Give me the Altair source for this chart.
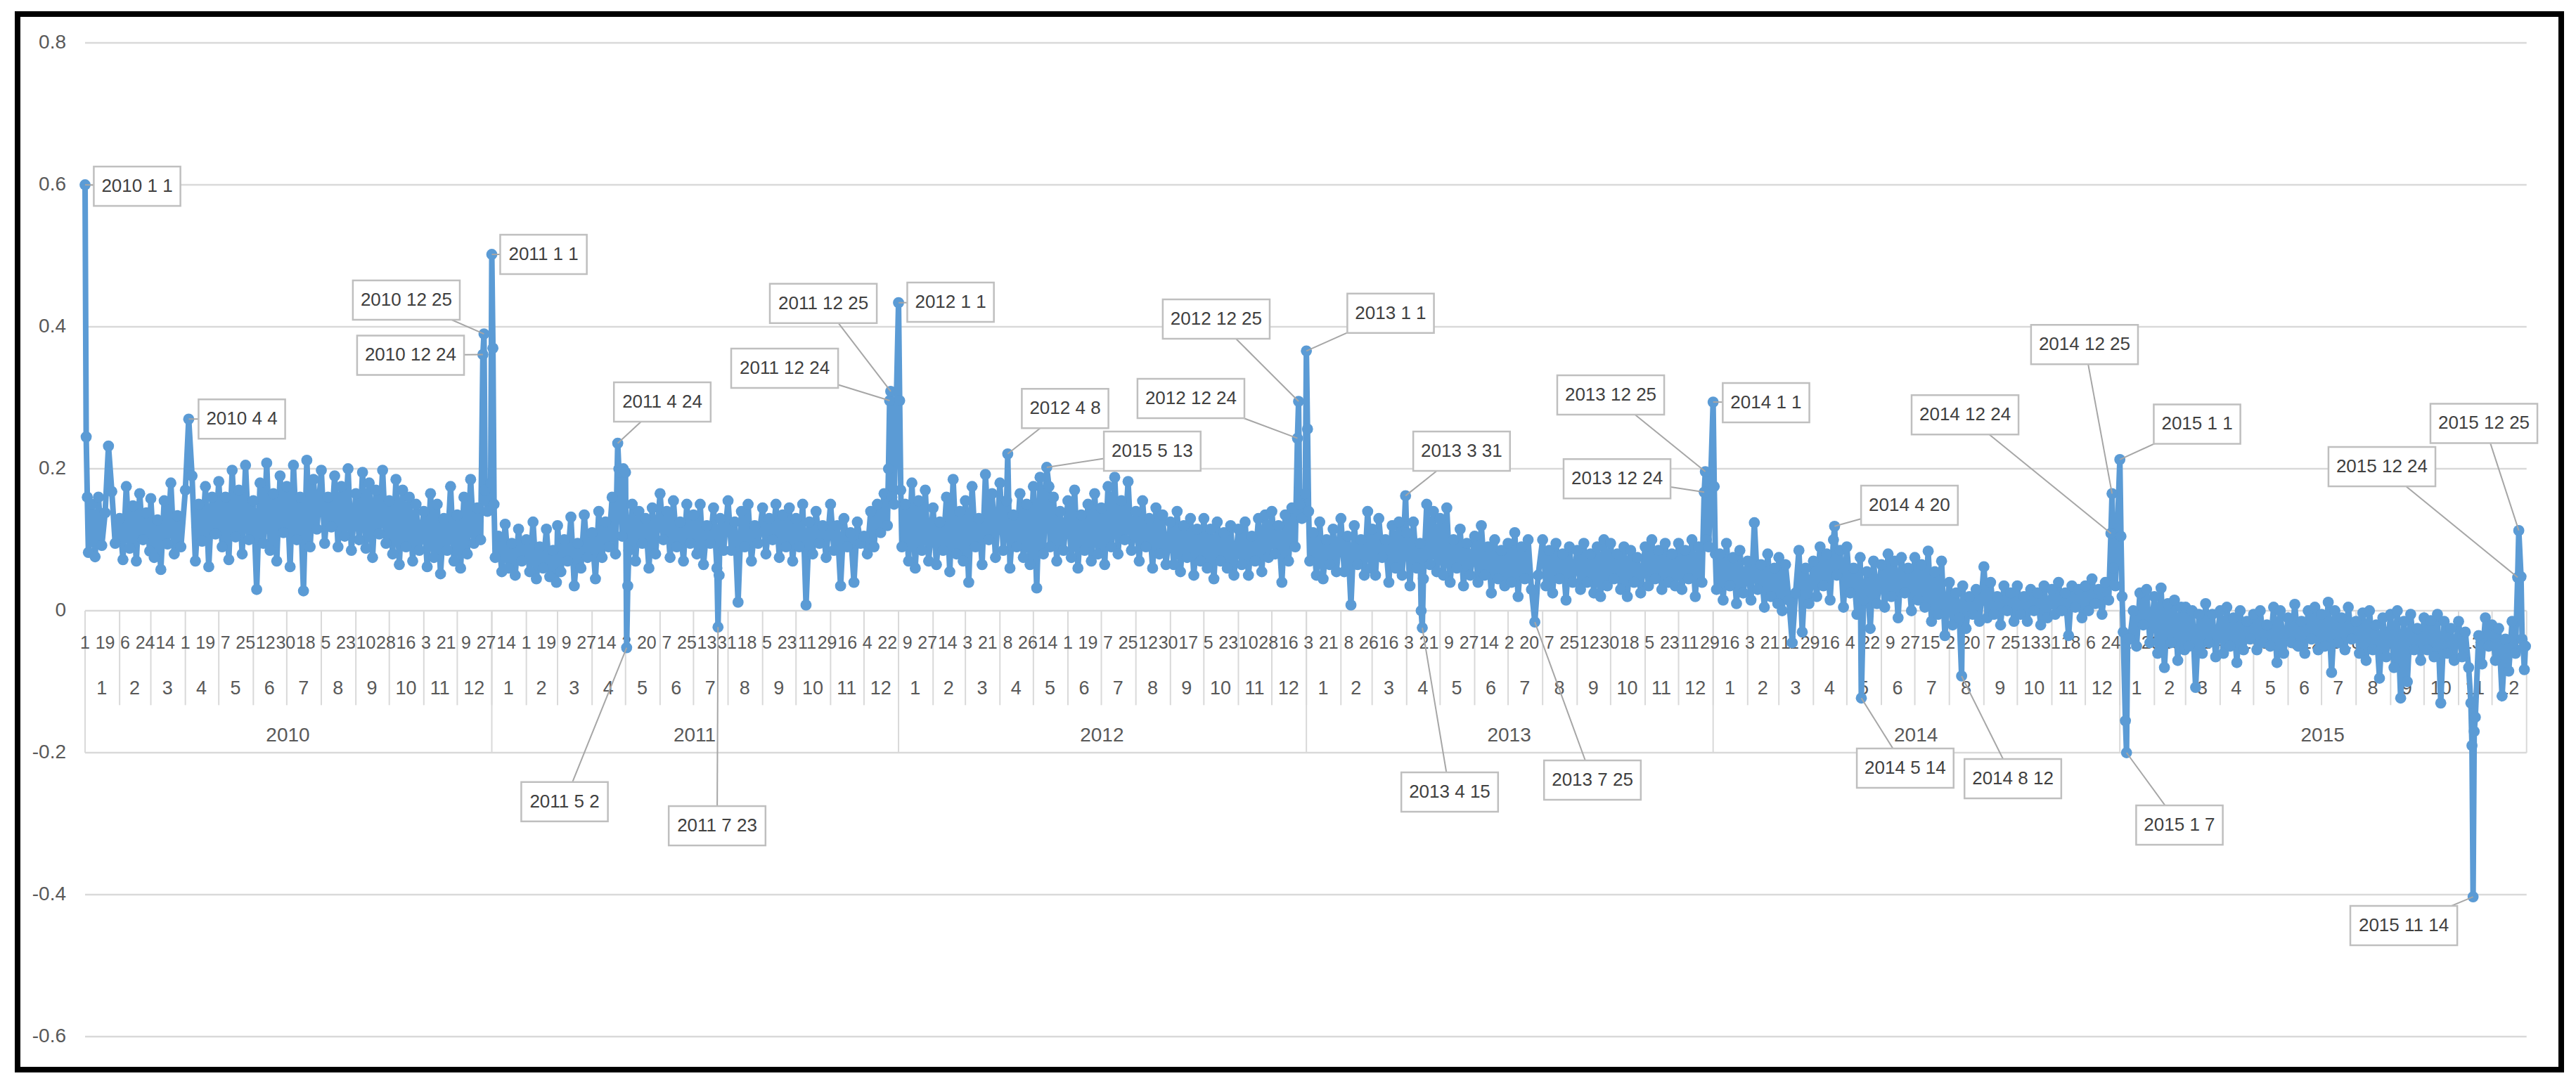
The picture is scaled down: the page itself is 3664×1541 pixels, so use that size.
import altair as alt
import pandas as pd
import numpy as np

# ---------------- data ----------------
# ten readings per month (days 1,4,7,...,28), thousandths
v2010 = [105, 82, 150, 76, 160, 92, 138, 78, 168, 95,
         130, 72, 175, 88, 148, 70, 165, 100, 138, 84,
         158, 75, 128, 58, 155, 94, 180, 80, 134, 90,
         170, 85, 190, 70, 150, 98, 175, 62, 160, 108,
         182, 90, 160, 72, 198, 104, 170, 80, 205, 100,
         155, 30, 180, 95, 208, 85, 165, 70, 190, 110,
         175, 62, 205, 100, 160, 28, 212, 90, 185, 115,
         198, 95, 160, 118, 190, 90, 175, 105, 200, 85,
         165, 100, 195, 88, 180, 75, 170, 108, 198, 95,
         155, 80, 185, 65, 170, 90, 160, 70, 150, 85,
         140, 62, 165, 75, 150, 52, 130, 85, 175, 70,
         135, 60, 160, 80, 185, 95, 145, 100, 178, 140]
v2011 = [130, 75, 105, 55, 122, 60, 95, 50, 115, 70,
         100, 55, 125, 45, 90, 60, 115, 48, 85, 40,
         120, 55, 100, 70, 132, 35, 95, 60, 135, 75,
         110, 45, 140, 75, 125, 90, 160, 80, 200, 105,
         195, 85, 150, 70, 140, 95, 130, 60, 145, 80,
         165, 100, 140, 75, 155, 90, 125, 70, 150, 95,
         135, 80, 150, 65, 120, 95, 145, 60, 130, 85,
         155, 85, 125, 12, 140, 90, 150, 70, 120, 95,
         145, 80, 130, 100, 150, 75, 135, 90, 145, 70,
         130, 90, 150, 8, 125, 80, 140, 95, 120, 75,
         150, 85, 120, 35, 130, 90, 110, 40, 125, 95,
         105, 80, 140, 90, 150, 110, 165, 120, 200, 150]
v2012 = [165, 90, 150, 70, 180, 60, 155, 85, 170, 70,
         145, 65, 125, 85, 160, 55, 185, 80, 140, 70,
         155, 40, 175, 90, 130, 65, 192, 100, 165, 75,
         180, 85, 155, 60, 135, 90, 165, 75, 150, 65,
         175, 32, 188, 80, 145, 90, 160, 70, 140, 85,
         155, 75, 170, 60, 135, 85, 150, 70, 165, 80,
         145, 65, 175, 90, 188, 80, 155, 100, 182, 85,
         140, 70, 155, 90, 130, 60, 145, 80, 135, 65,
         125, 65, 140, 55, 120, 75, 130, 50, 115, 70,
         130, 60, 115, 45, 125, 70, 110, 60, 120, 50,
         115, 65, 125, 50, 105, 70, 130, 55, 135, 75,
         140, 80, 120, 40, 135, 70, 145, 90, 160, 130]
v2013 = [120, 70, 110, 50, 125, 45, 100, 65, 115, 55,
         130, 55, 105, 8, 120, 65, 100, 50, 140, 60,
         115, 50, 130, 75, 100, 40, 120, 60, 125, 50,
         110, 35, 125, 60, 95, 45, 150, 65, 140, 55,
         130, 50, 145, 40, 100, 60, 115, 35, 95, 50,
         105, 40, 120, 50, 90, 25, 100, 45, 85, 35,
         95, 40, 110, 20, 90, 45, 100, 30, 115, 50,
         100, 35, 85, 25, 95, 45, 80, 15, 90, 40,
         85, 30, 95, 40, 80, 25, 90, 20, 100, 35,
         95, 45, 80, 30, 90, 20, 85, 40, 75, 25,
         90, 35, 100, 45, 85, 30, 95, 40, 80, 35,
         95, 30, 85, 45, 100, 20, 90, 40, 125, 90]
v2014 = [110, 30, 80, 15, 95, 35, 75, 10, 85, 25,
         70, 15, 124, 30, 65, 5, 80, 20, 60, 10,
         75, 0, 65, 15, -45, 25, 85, -30, 60, 10,
         70, 20, 90, 35, 80, 15, 100, 50, 85, 5,
         90, 25, 60, -5, 75, 15, 55, -25, 70, 10,
         65, 5, 80, 20, 70, -10, 75, 25, 60, 0,
         75, 15, 65, 5, 84, -15, 55, -5, 70, -35,
         40, -20, 25, -10, 35, -25, 20, -5, 30, -15,
         62, -10, 40, -5, 20, -20, 35, 0, 25, -15,
         35, -5, 20, -15, 30, 0, 25, -20, 35, -10,
         30, -5, 40, 0, 25, -35, 35, 5, 30, -10,
         35, 0, 45, 10, 30, -5, 40, 15, 50, 35]
v2015 = [10, -30, 20, -40, 0, -50, 25, -20, 30, -45,
         20, -60, 32, -80, 10, -45, 15, -70, 5, -55,
         5, -50, 0, -108, -5, -60, 10, -45, -5, -65,
         0, -60, 5, -50, -10, -73, 0, -55, -15, -40,
         -5, -55, 0, -45, -20, -50, 5, -73, 0, -60,
         -10, -45, 9, -50, -15, -60, 0, -40, 5, -55,
         -5, -50, 12, -87, 0, -45, -10, -55, 5, -40,
         -15, -60, -3, -70, 0, -55, -20, -95, -10, -65,
         -5, -80, 0, -123, -15, -100, -5, -55, -25, -70,
         -10, -55, -14, -65, -5, -130, -15, -60, -25, -70,
         -15, -65, -30, -80, -20, -60, -35, -75, -10, -50,
         -20, -70, -25, -120, -40, -85, -15, -60, 30, -40]

special_dates = ["2010-01-01", "2010-01-02", "2010-01-03", "2010-01-22", "2010-04-04",
                 "2010-12-24", "2010-12-25", "2010-12-26", "2010-12-31", "2011-01-01",
                 "2011-01-02", "2011-01-03", "2011-04-24", "2011-04-26", "2011-04-29",
                 "2011-05-02", "2011-05-03", "2011-07-23", "2011-07-24", "2011-12-23",
                 "2011-12-24", "2011-12-25", "2011-12-26", "2012-01-01", "2012-01-02",
                 "2012-01-03", "2012-04-08", "2012-05-13", "2012-05-15", "2012-12-24",
                 "2012-12-25", "2012-12-26", "2012-12-31", "2013-01-01", "2013-01-02",
                 "2013-01-03", "2013-03-31", "2013-04-14", "2013-04-15", "2013-07-25",
                 "2013-12-24", "2013-12-25", "2013-12-26", "2014-01-01", "2014-01-02",
                 "2014-01-03", "2014-04-20", "2014-05-14", "2014-08-12", "2014-12-24",
                 "2014-12-25", "2014-12-26", "2015-01-01", "2015-01-02", "2015-01-03",
                 "2015-01-06", "2015-01-07", "2015-01-08", "2015-11-12", "2015-11-13",
                 "2015-11-14", "2015-11-15", "2015-11-16", "2015-12-24", "2015-12-25",
                 "2015-12-27", "2015-12-29", "2015-12-30", "2015-12-31"]
special_values = [0.600, 0.245, 0.160, 0.232, 0.270,
                  0.361, 0.390, 0.170, 0.180, 0.502,
                  0.370, 0.150, 0.236, 0.195, 0.200,
                  -0.052, 0.035, -0.023, 0.050, 0.200,
                  0.296, 0.309, 0.160, 0.434, 0.296,
                  0.170, 0.221, 0.202, 0.175, 0.243,
                  0.295, 0.150, 0.165, 0.366, 0.256,
                  0.140, 0.162, 0.000, -0.024, -0.016,
                  0.167, 0.196, 0.100, 0.294, 0.175,
                  0.080, 0.119, -0.123, -0.092, 0.109,
                  0.165, 0.060, 0.213, 0.105, 0.020,
                  -0.155, -0.200, -0.040, -0.130, -0.190,
                  -0.403, -0.170, -0.150, 0.047, 0.113,
                  0.048, -0.052, -0.083, -0.050]

callout_dates = ["2010-01-01", "2010-12-25", "2010-12-24", "2011-01-01", "2010-04-04",
                 "2011-04-24", "2011-05-02", "2011-07-23", "2011-12-25", "2011-12-24",
                 "2012-01-01", "2012-04-08", "2012-05-13", "2012-12-25", "2012-12-24",
                 "2013-01-01", "2013-03-31", "2013-04-15", "2013-07-25", "2013-12-25",
                 "2013-12-24", "2014-01-01", "2014-04-20", "2014-05-14", "2014-08-12",
                 "2014-12-25", "2014-12-24", "2015-01-01", "2015-01-07", "2015-11-14",
                 "2015-12-25", "2015-12-24"]
callout_texts = ["2010 1 1", "2010 12 25", "2010 12 24", "2011 1 1", "2010 4 4",
                 "2011 4 24", "2011 5 2", "2011 7 23", "2011 12 25", "2011 12 24",
                 "2012 1 1", "2012 4 8", "2015 5 13", "2012 12 25", "2012 12 24",
                 "2013 1 1", "2013 3 31", "2013 4 15", "2013 7 25", "2013 12 25",
                 "2013 12 24", "2014 1 1", "2014 4 20", "2014 5 14", "2014 8 12",
                 "2014 12 25", "2014 12 24", "2015 1 1", "2015 1 7", "2015 11 14",
                 "2015 12 25", "2015 12 24"]
# callout box centres (day index, value)
callout_box_x = [46.7, 288.3, 292.1, 411.4, 140.7,
                 518.0, 430.3, 567.2, 662.5, 627.8,
                 776.7, 879.5, 957.7, 1015.1, 992.4,
                 1171.6, 1235.3, 1224.6, 1352.7, 1369.1,
                 1374.8, 1508.5, 1637.2, 1633.4, 1730.0,
                 1794.3, 1687.1, 1895.3, 1879.5, 2080.8,
                 2152.7, 2061.2]
callout_box_y = [0.598, 0.4376, 0.360, 0.502, 0.270,
                 0.294, -0.269, -0.303, 0.433, 0.3416,
                 0.4347, 0.285, 0.2248, 0.411, 0.299,
                 0.419, 0.2248, -0.2554, -0.2386, 0.304,
                 0.186, 0.293, 0.1485, -0.2218, -0.2366,
                 0.375, 0.276, 0.263, -0.302, -0.4436,
                 0.264, 0.203]

y_ticks = [-0.6, -0.4, -0.2, 0.0, 0.2, 0.4, 0.6, 0.8]
y_tick_labels = ["-0.6", "-0.4", "-0.2", "0", "0.2", "0.4", "0.6", "0.8"]

# ---------------- layout / style ----------------
W, H = 3618, 1502
XDOM = [-60.57, 2222.1]
YDOM = [-0.6465, 0.8406]
PX_X = W / (XDOM[1] - XDOM[0])
PX_Y = H / (YDOM[1] - YDOM[0])
FONT = "Liberation Sans, Arial, sans-serif"
BLUE = "#5b9bd5"
GRID = "#d9d9d9"
LABEL = "#595959"
DAY_Y, MONTH_Y, YEAR_Y = -0.0455, -0.110, -0.176
MONTH_SEP_BOTTOM, YEAR_SEP_BOTTOM = -0.133, -0.2
CALLOUT_FS = 26
YLABEL_RIGHT_PX = 69  # right edge of y labels inside the frame

start = pd.Timestamp("2010-01-01")
end = pd.Timestamp("2015-12-31")
all_days = pd.date_range(start, end, freq="D")
n_days = len(all_days)

# ---------------- build series ----------------
rows = {}
for year, vals in zip(range(2010, 2016), [v2010, v2011, v2012, v2013, v2014, v2015]):
    for k, v in enumerate(vals):
        rows[pd.Timestamp(year, k // 10 + 1, (k % 10) * 3 + 1)] = v / 1000
special = {pd.Timestamp(d): v for d, v in zip(special_dates, special_values)}
rows.update(special)
series = pd.DataFrame(sorted(rows.items()), columns=["date", "value"])
series["idx"] = (series["date"] - start).dt.days

# axis label tables
day_idx = np.arange(0, n_days, 18)
day_df = pd.DataFrame({"idx": day_idx,
                       "text": [str(all_days[i].day) for i in day_idx],
                       "y": DAY_Y})
per = pd.DataFrame({"idx": np.arange(n_days), "y": all_days.year, "m": all_days.month})
mg = per.groupby(["y", "m"])["idx"].agg(["min", "max"]).reset_index()
month_df = pd.DataFrame({"idx": (mg["min"] + mg["max"]) / 2,
                         "text": mg["m"].astype(str), "y": MONTH_Y})
yg = per.groupby("y")["idx"].agg(["min", "max"]).reset_index()
year_df = pd.DataFrame({"idx": (yg["min"] + yg["max"]) / 2,
                        "text": yg["y"].astype(str), "y": YEAR_Y})
msep = pd.DataFrame({"idx": mg["min"], "top": 0.0, "bottom": MONTH_SEP_BOTTOM})
ysep = pd.DataFrame({"idx": list(yg["min"]) + [n_days], "top": 0.0,
                     "bottom": YEAR_SEP_BOTTOM})
grid_df = pd.DataFrame({"v": y_ticks, "x0": 0, "x1": n_days})
ylab_df = pd.DataFrame({"v": y_ticks, "text": y_tick_labels,
                        "idx": XDOM[0] + YLABEL_RIGHT_PX / PX_X})

# callouts
def text_px(s, fs):
    return sum(0.556 * fs if ch.isdigit() else 0.278 * fs for ch in s)

cd = pd.DataFrame({"date": pd.to_datetime(callout_dates), "text": callout_texts,
                   "bx": callout_box_x, "by": callout_box_y})
cd["idx"] = (cd["date"] - start).dt.days
cd["value"] = [special[d] for d in cd["date"]]
half_w = cd["text"].apply(lambda s: (text_px(s, CALLOUT_FS) + 22) / 2) / PX_X
half_h = 28 / PX_Y
cd["bx0"] = cd["bx"] - half_w
cd["bx1"] = cd["bx"] + half_w
cd["by0"] = cd["by"] - half_h
cd["by1"] = cd["by"] + half_h

# ---------------- chart ----------------
xs = alt.Scale(domain=XDOM, nice=False, zero=False)
ys = alt.Scale(domain=YDOM, nice=False, zero=False)

grid = alt.Chart(grid_df).mark_rule(color=GRID, strokeWidth=2.5).encode(
    x=alt.X("x0:Q", scale=xs, axis=None), x2="x1:Q",
    y=alt.Y("v:Q", scale=ys, axis=None))
ylabels = alt.Chart(ylab_df).mark_text(font=FONT, fontSize=28, color=LABEL,
                                       align="right", baseline="middle").encode(
    x=alt.X("idx:Q", scale=xs, axis=None),
    y=alt.Y("v:Q", scale=ys, axis=None), text="text:N")
msep_l = alt.Chart(msep).mark_rule(color=GRID, strokeWidth=2).encode(
    x=alt.X("idx:Q", scale=xs, axis=None),
    y=alt.Y("top:Q", scale=ys, axis=None), y2="bottom:Q")
ysep_l = alt.Chart(ysep).mark_rule(color=GRID, strokeWidth=2).encode(
    x=alt.X("idx:Q", scale=xs, axis=None),
    y=alt.Y("top:Q", scale=ys, axis=None), y2="bottom:Q")

def label_layer(df, fs):
    return alt.Chart(df).mark_text(font=FONT, fontSize=fs, color=LABEL,
                                   baseline="middle", align="center").encode(
        x=alt.X("idx:Q", scale=xs, axis=None),
        y=alt.Y("y:Q", scale=ys, axis=None), text="text:N")

days_l = label_layer(day_df, 25)
months_l = label_layer(month_df, 27)
years_l = label_layer(year_df, 28)

line = alt.Chart(series).mark_line(
    color=BLUE, strokeWidth=8, strokeJoin="round",
    point=alt.OverlayMarkDef(filled=True, size=250, color=BLUE, opacity=1),
).encode(
    x=alt.X("idx:Q", scale=xs, axis=None),
    y=alt.Y("value:Q", scale=ys, axis=None),
    order="idx:Q",
)

leaders = alt.Chart(cd).mark_rule(color="#a6a6a6", strokeWidth=2).encode(
    x=alt.X("idx:Q", scale=xs, axis=None), x2="bx:Q",
    y=alt.Y("value:Q", scale=ys, axis=None), y2="by:Q")
boxes = alt.Chart(cd).mark_rect(fill="white", stroke="#bfbfbf", strokeWidth=2.5).encode(
    x=alt.X("bx0:Q", scale=xs, axis=None), x2="bx1:Q",
    y=alt.Y("by0:Q", scale=ys, axis=None), y2="by1:Q")
ctext = alt.Chart(cd).mark_text(font=FONT, fontSize=CALLOUT_FS, color="#404040",
                                baseline="middle", align="center").encode(
    x=alt.X("bx:Q", scale=xs, axis=None),
    y=alt.Y("by:Q", scale=ys, axis=None), text="text:N")

chart = alt.layer(grid, ylabels, msep_l, ysep_l, days_l, months_l, years_l, line,
                  leaders, boxes, ctext).properties(
    width=W, height=H,
    autosize=alt.AutoSizeParams(type="none"),
    padding={"left": 17, "top": 12, "right": 13, "bottom": 10},
    background="white",
).configure_view(stroke="black", strokeWidth=8)

chart.save("out.html", embed_options={"renderer": "svg", "actions": False})
